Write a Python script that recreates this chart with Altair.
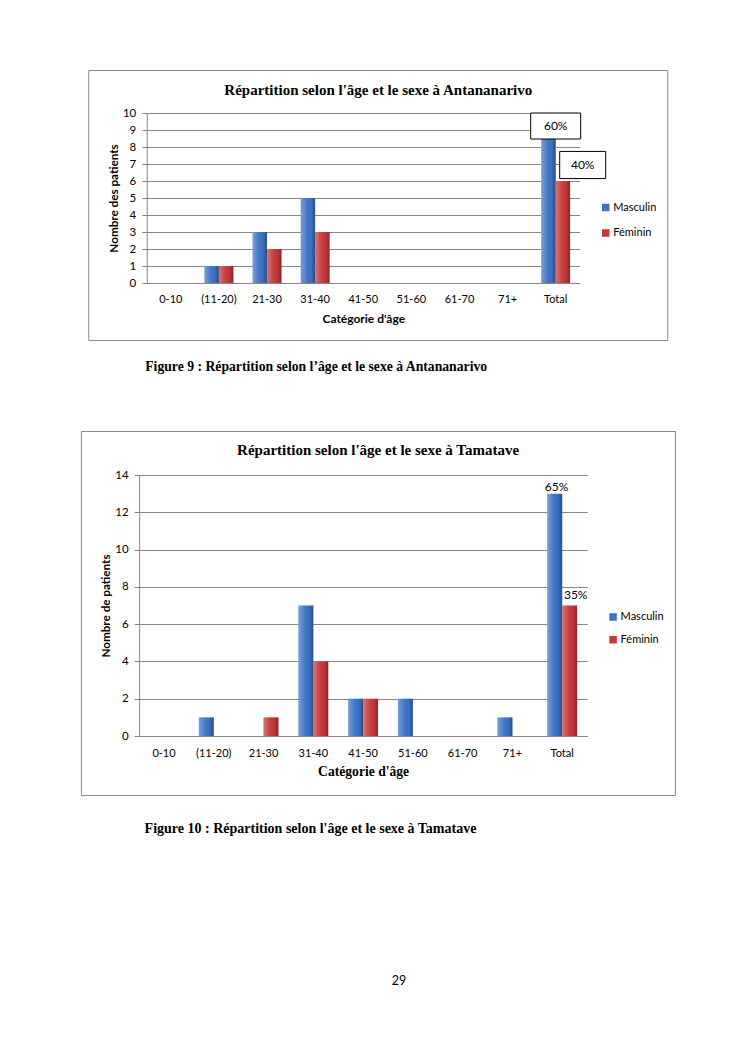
import altair as alt
import pandas as pd

# ---------------- data ----------------
ages = ["0-10", "(11-20)", "21-30", "31-40", "41-50", "51-60", "61-70", "71+", "Total"]
sexes = ["Masculin", "Féminin"]

tana_masc = [0, 1, 3, 5, 0, 0, 0, 0, 9]
tana_fem = [0, 1, 2, 3, 0, 0, 0, 0, 6]
tana_pct = ["60%", "40%"]

tama_masc = [0, 1, 0, 7, 2, 2, 0, 1, 13]
tama_fem = [0, 0, 1, 4, 2, 0, 0, 0, 7]
tama_pct = ["65%", "35%"]

title1 = "Répartition selon l'âge et le sexe à Antananarivo"
title2 = "Répartition selon l'âge et le sexe à Tamatave"
ytitle1 = "Nombre des patients"
ytitle2 = "Nombre de patients"
xtitle = "Catégorie d'âge"
caption1 = "Figure 9 : Répartition selon l’âge et le sexe à Antananarivo"
caption2 = "Figure 10 : Répartition selon l'âge et le sexe à Tamatave"
page_no = "29"

# ---------------- styles ----------------
BLUE = "#3D74C6"
RED = "#C8383A"
GRID = "#868686"
FRAME = "#8A8A8A"
SANS = "Lato"
SERIF = "Liberation Serif"

SHADE = {
    "gradient": "linear", "x1": 0, "y1": 0, "x2": 1, "y2": 0,
    "stops": [
        {"offset": 0, "color": "rgba(255,255,255,0.30)"},
        {"offset": 0.3, "color": "rgba(255,255,255,0.12)"},
        {"offset": 0.7, "color": "rgba(0,0,0,0.02)"},
        {"offset": 1, "color": "rgba(0,0,0,0.32)"},
    ],
}


def long_df(masc, fem):
    rows = []
    for a, m, f in zip(ages, masc, fem):
        rows.append({"age": a, "sex": sexes[0], "value": m})
        rows.append({"age": a, "sex": sexes[1], "value": f})
    return pd.DataFrame(rows)


def pct_df(masc, fem, pct):
    return pd.DataFrame({"age": [ages[-1]] * 2, "sex": sexes,
                         "value": [masc[-1], fem[-1]], "pct": pct})


one = pd.DataFrame({"k": [0]})


def encs(W, H, ymax, ystep, ytitle, ytx, xlab_pad, xt_font, xt_size, xt_y,
         legx, legy, legpad):
    x = alt.X("age:N", sort=ages,
              scale=alt.Scale(domain=ages, paddingInner=0.4, paddingOuter=0.2),
              axis=alt.Axis(title=xtitle, labelAngle=0, ticks=False, tickSize=0,
                            labelPadding=xlab_pad, labelFont=SANS, labelFontSize=11,
                            labelColor="black", domainColor=GRID, domainWidth=1,
                            titleFont=xt_font, titleFontSize=xt_size,
                            titleFontWeight="bold", titleColor="black",
                            titleX=W / 2, titleY=xt_y, titleBaseline="middle",
                            titleAlign="center"))
    y = alt.Y("value:Q", scale=alt.Scale(domain=[0, ymax], nice=False),
              axis=alt.Axis(title=ytitle, values=list(range(0, ymax + 1, ystep)),
                            grid=True, gridColor=GRID, gridWidth=1,
                            domainColor=GRID, tickColor=GRID, tickSize=5,
                            labelPadding=6, labelFont=SANS, labelFontSize=11.5,
                            labelColor="black", titleFont=SANS, titleFontSize=11.7,
                            titleFontWeight="bold", titleColor="black",
                            titleAngle=270, titleX=ytx, titleY=H / 2,
                            titleAlign="center", titleBaseline="middle"))
    xo = alt.XOffset("sex:N", sort=sexes, scale=alt.Scale(domain=sexes))
    color = alt.Color("sex:N", sort=sexes,
                      scale=alt.Scale(domain=sexes, range=[BLUE, RED]),
                      legend=alt.Legend(title=None, orient="none", legendX=legx,
                                        legendY=legy, symbolType="square",
                                        symbolSize=56, symbolStrokeWidth=0,
                                        labelFont=SANS, labelFontSize=11,
                                        labelColor="black", rowPadding=legpad,
                                        labelOffset=2, padding=0))
    return x, y, xo, color


def bars_layers(df, x, y, xo, color):
    base = alt.Chart(df).transform_filter("datum.value > 0")
    bars = base.mark_bar().encode(x=x, y=y, xOffset=xo, color=color)
    shade = base.mark_bar(color=SHADE).encode(x=x, y=y, xOffset=xo)
    return [bars, shade]


def text_value(txt, xv, yv, font, size, weight="normal", align="center"):
    return alt.Chart(one).mark_text(text=txt, font=font, fontSize=size,
                                    fontWeight=weight, align=align,
                                    baseline="middle", color="black").encode(
        x=alt.value(xv), y=alt.value(yv))


def frame_rect(x1, x2, y1, y2):
    return alt.Chart(one).mark_rect(fill="white", fillOpacity=0, stroke=FRAME,
                                    strokeWidth=1).encode(
        x=alt.value(x1), x2=alt.value(x2), y=alt.value(y1), y2=alt.value(y2))


def sel(df, i):
    return alt.Chart(df).transform_filter(f"datum.sex == '{sexes[i]}'")


# ---------------- chart 1: Antananarivo ----------------
W1, H1 = 433, 170
x1, y1, xo1, c1 = encs(W1, H1, 10, 1, ytitle1, -33, 10, SANS, 12, 35,
                       453.5, 89, 13.5)
df1 = long_df(tana_masc, tana_fem)
p1 = pct_df(tana_masc, tana_fem, tana_pct)

box_m = sel(p1, 0).mark_point(
    shape="M-1,-0.52L1,-0.52L1,0.52L-1,0.52Z", size=2500, filled=True,
    fill="white", stroke="black", strokeWidth=1, opacity=1,
    xOffset=0, yOffset=-4).encode(x=x1, y=y1)
txt_m = sel(p1, 0).mark_text(
    font=SANS, fontSize=12, color="black", baseline="middle",
    xOffset=0, yOffset=-4).encode(x=x1, y=y1, text="pct:N")
box_f = sel(p1, 1).mark_point(
    shape="M-1,-0.59L1,-0.59L1,0.59L-1,0.59Z", size=2116, filled=True,
    fill="white", stroke="black", strokeWidth=1, opacity=1,
    xOffset=27, yOffset=-16).encode(x=x1, y=y1)
txt_f = sel(p1, 1).mark_text(
    font=SANS, fontSize=12, color="black", baseline="middle",
    xOffset=27, yOffset=-16).encode(x=x1, y=y1, text="pct:N")

chart1 = alt.layer(
    frame_rect(-58, 521, -42.5, 227.5),
    *bars_layers(df1, x1, y1, xo1, c1),
    box_m, txt_m, box_f, txt_f,
    text_value(title1, 231.5, -23, SERIF, 15, "bold"),
    text_value(caption1, -1.5, 254, SERIF, 13.7, "bold", "left"),
).properties(width=W1, height=H1)

# ---------------- chart 2: Tamatave ----------------
W2, H2 = 448, 261
x2, y2, xo2, c2 = encs(W2, H2, 14, 2, ytitle2, -34, 11, SERIF, 13.6, 35,
                       468.5, 136.5, 10.7)
df2 = long_df(tama_masc, tama_fem)
p2 = pct_df(tama_masc, tama_fem, tama_pct)

lab_m = sel(p2, 0).mark_text(
    font=SANS, fontSize=12, color="black", baseline="middle",
    xOffset=-5.7, yOffset=-6.5).encode(x=x2, y=y2, text="pct:N")
lab_f = sel(p2, 1).mark_text(
    font=SANS, fontSize=12, color="black", baseline="middle",
    xOffset=13.5, yOffset=-10.5).encode(x=x2, y=y2, text="pct:N")

chart2 = alt.layer(
    frame_rect(-57.7, 536.3, -43.5, 320.5),
    *bars_layers(df2, x2, y2, xo2, c2),
    lab_m, lab_f,
    text_value(title2, 239, -25, SERIF, 15, "bold"),
    text_value(caption2, 5.5, 354, SERIF, 14, "bold", "left"),
    text_value(page_no, 260, 506, SANS, 12.5),
).properties(width=W2, height=H2)

chart = alt.vconcat(chart1, chart2, spacing=57, center=True).resolve_scale(
    x="independent", y="independent", color="independent", xOffset="independent"
).properties(
    padding={"top": 62, "left": 72, "right": 0, "bottom": 0},
    background="white",
).configure_view(stroke=None)

chart.save("out.html", embed_options={"renderer": "svg", "actions": False})
